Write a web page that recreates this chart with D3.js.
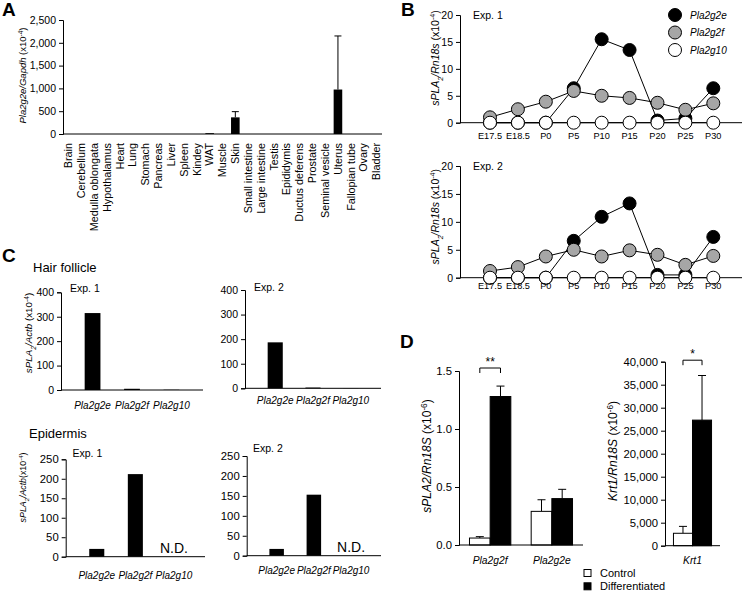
<!DOCTYPE html>
<html><head><meta charset="utf-8">
<script src="https://cdn.jsdelivr.net/npm/d3@7"></script>
<style>body{margin:0;background:#fff} svg{display:block;font-family:"Liberation Sans",Arial,sans-serif}</style>
</head><body><svg id="c" width="745" height="591"></svg>
<script>
// ---------- DATA ----------
const tissues = ["Brain","Cerebellum","Medulla oblongata","Hypothalamus","Heart","Lung","Stomach","Pancreas","Liver","Spleen","Kindey","WAT","Muscle","Skin","Small intestine","Large intestine","Testis","Epididymis","Ductus deferens","Prostate","Seminal vesicle","Uterus","Fallopian tube","Ovary","Bladder"];
const tissueValues = [0,0,0,0,0,0,0,0,0,0,0,18,0,365,0,0,0,0,0,0,0,975,0,0,0];
const tissueErrors = [0,0,0,0,0,0,0,0,0,0,0,0,0,125,0,0,0,0,0,0,0,1175,0,0,0];
const tissueTicks = [0,500,1000,1500,2000,2500];

const stages = ["E17.5","E18.5","P0","P5","P10","P15","P20","P25","P30"];
const exp1Pla2g2e = [0,0,0,6.4,15.5,13.5,0.4,0.8,6.4];
const exp1Pla2g2f = [1.0,2.5,3.9,5.9,5.0,4.6,3.7,2.4,3.6];
const exp1Pla2g10 = [0,0,0,0,0,0,0,0,0];
const exp2Pla2g2e = [0,0,0,6.6,10.9,13.3,0.5,0.5,7.3];
const exp2Pla2g2f = [1.2,1.9,3.8,5.0,3.8,4.9,4.1,2.3,3.9];
const exp2Pla2g10 = [0,0,0,0,0,0,0,0,0];
const seriesNames = ["Pla2g2e","Pla2g2f","Pla2g10"];
const stageTicks = [0,5,10,15,20];

const geneCats = ["Pla2g2e","Pla2g2f","Pla2g10"];
const hairExp1 = [315,5,1];
const hairExp2 = [187,3,0.5];
const epiExp1 = [20,212,null];
const epiExp2 = [17,153,null];
const hairTicks = [0,100,200,300,400];
const epiTicks = [0,50,100,150,200,250];

const dGenes = ["Pla2g2f","Pla2g2e"];
const dControl = [0.06,0.29];
const dControlErr = [0.012,0.10];
const dDiff = [1.28,0.40];
const dDiffErr = [0.09,0.08];
const dTicks = [0,0.5,1.0,1.5];
const krtGenes = ["Krt1"];
const krtControl = [2700];
const krtControlErr = [1500];
const krtDiff = [27300];
const krtDiffErr = [9700];
const krtTicks = [0,5000,10000,15000,20000,25000,30000,35000,40000];
const groupNames = ["Control","Differentiated"];

// ---------- HELPERS ----------
const FONT = '"Liberation Sans",Arial,sans-serif';
const svg = d3.select("#c");
svg.append("rect").attr("width",745).attr("height",591).attr("fill","#fff");

function yAxis(scale, x, ticks, fmt, fs){
  const g = svg.append("g").attr("transform",`translate(${x},0)`)
    .call(d3.axisLeft(scale).tickValues(ticks).tickFormat(fmt).tickSizeOuter(0).tickSize(4).tickPadding(3));
  g.attr("font-family",FONT).attr("font-size",fs);
  g.selectAll("text").attr("fill","#000");
  g.selectAll("line").attr("stroke","#000");
  g.select(".domain").attr("stroke","#000");
  return g;
}
function hline(x1,x2,y){
  svg.append("line").attr("x1",x1).attr("x2",x2).attr("y1",y).attr("y2",y).attr("stroke","#000").attr("stroke-width",1);
}
function rich(x,y,parts,fs,rot,anchor){
  const t = svg.append("text").attr("transform",`translate(${x},${y}) rotate(${rot||0})`)
    .attr("text-anchor",anchor||"middle").attr("font-size",fs).attr("fill","#000");
  if (rot) t.attr("dy","0.35em");
  parts.forEach(p=>{
    const s = t.append("tspan").text(p.t);
    if (p.i) s.attr("font-style","italic");
    if (p.sup){ s.attr("baseline-shift","super").attr("font-size",fs*0.68); }
    if (p.sub){ s.attr("baseline-shift","sub").attr("font-size",fs*0.68); }
  });
  return t;
}
function label(x,y,txt,fs,opts){
  opts = opts||{};
  return svg.append("text").attr("x",x).attr("y",y).attr("font-size",fs)
    .attr("text-anchor",opts.anchor||"start").attr("font-weight",opts.bold?"bold":null)
    .attr("font-style",opts.italic?"italic":null).attr("fill","#000").text(txt);
}
function errBar(cx,yBase,yTop,cap){
  svg.append("line").attr("x1",cx).attr("x2",cx).attr("y1",yBase).attr("y2",yTop).attr("stroke","#000");
  svg.append("line").attr("x1",cx-cap/2).attr("x2",cx+cap/2).attr("y1",yTop).attr("y2",yTop).attr("stroke","#000");
}

// ---------- PANEL A ----------
label(2,15.5,"A",19,{bold:true});
const xA = d3.scaleBand().domain(tissues).range([63,382]).paddingInner(0.33).paddingOuter(0.1);
const yA = d3.scaleLinear().domain([0,2500]).range([134,20]);
tissues.forEach((t,i)=>{
  if (tissueErrors[i]>0) errBar(xA(t)+xA.bandwidth()/2, yA(tissueValues[i]), yA(tissueValues[i]+tissueErrors[i]), 7);
});
svg.append("g").selectAll("rect").data(tissues).join("rect")
  .attr("x",d=>xA(d)).attr("width",xA.bandwidth())
  .attr("y",(d,i)=>yA(tissueValues[i])).attr("height",(d,i)=>yA(0)-yA(tissueValues[i]))
  .attr("fill","#000");
yAxis(yA,63,tissueTicks,d3.format(","),10.5);
hline(63,382,134);
svg.append("g").selectAll("text").data(tissues).join("text")
  .attr("transform",d=>`translate(${xA(d)+xA.bandwidth()/2},143) rotate(-90)`)
  .attr("dy","0.35em").attr("text-anchor","end").attr("font-size",10.8).attr("fill","#000").text(d=>d);
rich(22.5,75.5,[{t:"Pla2g2e/Gapdh",i:true},{t:" (x10"},{t:"-4",sup:true},{t:")"}],9.5,-90);

// ---------- PANEL B ----------
label(401,15.5,"B",19,{bold:true});
const colors = ["#000","#a6a6a6","#fff"];
function lineChart(y0,yTop,dataSets,expLabel,labelY,xLabelY){
  const x = d3.scalePoint().domain(stages).range([490,713.3]);
  const y = d3.scaleLinear().domain([0,20]).range([y0,yTop]);
  const line = d3.line().x((d,i)=>x(stages[i])).y(d=>y(d));
  dataSets.forEach(ds=>{
    svg.append("path").attr("d",line(ds)).attr("fill","none").attr("stroke","#000").attr("stroke-width",1);
  });
  yAxis(y,460,stageTicks,d3.format("d"),10.5);
  hline(460,742,y0);
  dataSets.forEach((ds,k)=>{
    svg.append("g").selectAll("circle").data(ds).join("circle")
      .attr("cx",(d,i)=>x(stages[i])).attr("cy",d=>y(d)).attr("r",6.5)
      .attr("fill",colors[k]).attr("stroke","#000").attr("stroke-width",1);
  });
  svg.append("g").selectAll("text").data(stages).join("text")
    .attr("x",d=>x(d)).attr("y",xLabelY).attr("dy","0.35em").attr("text-anchor","middle")
    .attr("font-size",9.2).attr("fill","#000").text(d=>d);
  label(473,yTop+4,expLabel,10.5);
  rich(435,labelY,[{t:"sPLA",i:true},{t:"2",i:true,sub:true},{t:"/Rn18s",i:true},{t:" (x10"},{t:"-4",sup:true},{t:")"}],10.5,-90);
}
lineChart(122.7,15,[exp1Pla2g2e,exp1Pla2g2f,exp1Pla2g10],"Exp. 1",58,135.5);
lineChart(277.7,166,[exp2Pla2g2e,exp2Pla2g2f,exp2Pla2g10],"Exp. 2",216.7,285.5);
// legend
seriesNames.forEach((n,k)=>{
  const ly = 15 + k*17.5;
  svg.append("circle").attr("cx",675).attr("cy",ly).attr("r",6.5).attr("fill",colors[k]).attr("stroke","#000");
  label(690,ly,n,10,{italic:true}).attr("dy","0.35em");
});

// ---------- PANEL C ----------
label(2,262,"C",19,{bold:true});
label(33,271.5,"Hair follicle",13);
label(29,437.5,"Epidermis",13);
function smallBar(x0,x1,y0,yTop,ticks,vals,expLabel,expX,expY,catY,pad,tfs){
  const x = d3.scaleBand().domain(geneCats).range([x0,x1]).padding(pad);
  const max = ticks[ticks.length-1];
  const y = d3.scaleLinear().domain([0,max]).range([y0,yTop]);
  geneCats.forEach((c,i)=>{
    if (vals[i]===null){
      label(x(c)+x.bandwidth()/2,y0-4,"N.D.",14,{anchor:"middle"});
    } else {
      svg.append("rect").attr("x",x(c)).attr("width",x.bandwidth())
        .attr("y",y(vals[i])).attr("height",y(0)-y(vals[i])).attr("fill","#000");
    }
  });
  yAxis(y,x0,ticks,d3.format("d"),tfs);
  hline(x0,x1,y0);
  svg.append("g").selectAll("text").data(geneCats).join("text")
    .attr("x",d=>x(d)+x.bandwidth()/2).attr("y",catY).attr("dy","0.35em").attr("text-anchor","middle")
    .attr("font-size",10).attr("font-style","italic").attr("fill","#000").text(d=>d);
  label(expX,expY,expLabel,10.5);
}
smallBar(61,203,390,292.3,hairTicks,hairExp1,"Exp. 1",70,292,405,0.6,10.5);
smallBar(245,381,388.3,290,hairTicks,hairExp2,"Exp. 2",254,291,400,0.6,10.5);
smallBar(65.7,205,556.7,459.3,epiTicks,epiExp1,"Exp. 1",72.5,457,575,0.61,11.3);
smallBar(246.7,381,555.7,456,epiTicks,epiExp2,"Exp. 2",253,452,570,0.61,11.3);
rich(28.5,333,[{t:"sPLA",i:true},{t:"2",i:true,sub:true},{t:"/Actb",i:true},{t:" (x10"},{t:"-4",sup:true},{t:")"}],9.8,-90);
rich(22.5,487.5,[{t:"sPLA",i:true},{t:"2",i:true,sub:true},{t:"/Actb",i:true},{t:"(x10"},{t:"-4",sup:true},{t:")"}],8.8,-90);

// ---------- PANEL D ----------
label(400,348,"D",19,{bold:true});
function groupedBar(x0,x1,y0,yTop,max,ticks,fmt,cats,ctrl,ctrlErr,diff,diffErr,pi,po,catY){
  const x = d3.scaleBand().domain(cats).range([x0,x1]).paddingInner(pi).paddingOuter(po);
  const xs = d3.scaleBand().domain(groupNames).range([0,x.bandwidth()]);
  const y = d3.scaleLinear().domain([0,max]).range([y0,yTop]);
  cats.forEach((c,i)=>{
    [[ctrl,ctrlErr,"#fff"],[diff,diffErr,"#000"]].forEach(([v,e,f],k)=>{
      const bx = x(c)+xs(groupNames[k]);
      errBar(bx+xs.bandwidth()/2, y(v[i]), y(v[i]+e[i]), 8);
      svg.append("rect").attr("x",bx).attr("width",xs.bandwidth())
        .attr("y",y(v[i])).attr("height",y(0)-y(v[i])).attr("fill",f).attr("stroke","#000").attr("stroke-width",1);
    });
  });
  yAxis(y,x0,ticks,fmt,11.3);
  hline(x0,x1,y0);
  svg.append("g").selectAll("text").data(cats).join("text")
    .attr("x",d=>x(d)+x.bandwidth()/2).attr("y",catY).attr("dy","0.35em").attr("text-anchor","middle")
    .attr("font-size",10.3).attr("font-style","italic").attr("fill","#000").text(d=>d);
  return {x,xs,y};
}
const dl = groupedBar(459,583,545,371,1.5,dTicks,d3.format(".1f"),dGenes,dControl,dControlErr,dDiff,dDiffErr,0.33,0.17,560);
const dr = groupedBar(665,720,545.7,361.7,40000,krtTicks,d3.format(","),krtGenes,krtControl,krtControlErr,krtDiff,krtDiffErr,0.1,0.2,560);
function bracket(s,cat,yb,txt){
  const xa = s.x(cat)+s.xs(groupNames[0])+s.xs.bandwidth()/2;
  const xb = s.x(cat)+s.xs(groupNames[1])+s.xs.bandwidth()/2;
  svg.append("path").attr("d",`M${xa},${yb+5}V${yb}H${xb}V${yb+5}`).attr("fill","none").attr("stroke","#000");
  label((xa+xb)/2,yb-2,txt,12,{anchor:"middle"});
}
bracket(dl,"Pla2g2f",dl.y(1.5)-3,"**");
bracket(dr,"Krt1",dr.y(40000)-1.5,"*");
rich(427,456,[{t:"sPLA2/Rn18S",i:true},{t:" (x10"},{t:"-6",sup:true},{t:")"}],12,-90);
rich(612.5,451,[{t:"Krt1/Rn18S",i:true},{t:" (x10"},{t:"-6",sup:true},{t:")"}],12,-90);
groupNames.forEach((n,k)=>{
  const ly = 573 + k*13.3;
  svg.append("rect").attr("x",584).attr("y",ly-3.5).attr("width",7).attr("height",7)
    .attr("fill",k===0?"#fff":"#000").attr("stroke","#000");
  label(600,ly,n,11).attr("dy","0.35em");
});
</script></body></html>
